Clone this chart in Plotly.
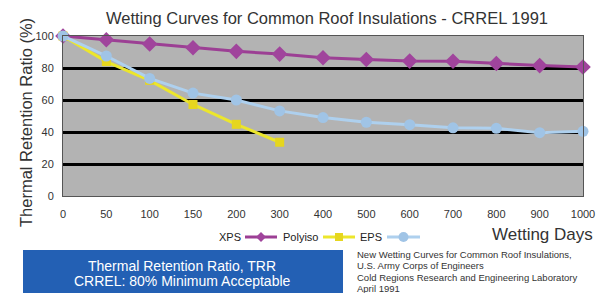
import plotly.graph_objects as go

# ---- data ----
days = ["0", "50", "100", "150", "200", "300", "400", "500", "600", "700", "800", "900", "1000"]
xps = [100, 97.7, 95, 92.7, 90.4, 88.7, 86.4, 85.3, 84.3, 84.2, 82.8, 81.5, 80.6]
polyiso_days = ["0", "50", "100", "150", "200", "300"]
polyiso = [100, 84, 72.3, 57.2, 44.8, 33.6]
eps = [100, 87.5, 73.5, 64.3, 60, 53.2, 49, 46.1, 44.6, 42.6, 42.3, 39.6, 40.4]
y_ticks = [0, 20, 40, 60, 80, 100]
grid_vals = [20, 40, 60, 80]
labels = ["XPS", "Polyiso", "EPS"]
source_lines = ["New Wetting Curves for Common Roof Insulations,",
                "U.S. Army Corps of Engineers",
                "Cold Regions Research and Engineering Laboratory",
                "April 1991"]

# the page places the figure 8px in from the top-left corner
OFF = 8
W, H = 606 - OFF, 293 - OFF
PLOT_L, PLOT_R, PLOT_T, PLOT_B = 63, 583, 36, 196   # in window pixels
L, T = PLOT_L - OFF, PLOT_T - OFF
R = W - (PLOT_R - OFF)
B = H - (PLOT_B - OFF)
PW, PH = PLOT_R - PLOT_L, PLOT_B - PLOT_T

def px(x):
    return (x - PLOT_L) / PW

def py(y):
    return (PLOT_B - y) / PH

c_xps_line, c_xps_m = "#9c3f94", "#a0449c"
c_pi_line, c_pi_m = "#ece62c", "#e6d61e"
c_eps_line, c_eps_m = "#aed0ee", "#a0c4e6"

fig = go.Figure()
fig.add_trace(go.Scatter(x=days, y=xps, mode="lines+markers", name=labels[0],
                         line=dict(color=c_xps_line, width=3),
                         marker=dict(symbol="diamond", size=12, color=c_xps_m),
                         cliponaxis=False))
fig.add_trace(go.Scatter(x=polyiso_days, y=polyiso, mode="lines+markers", name=labels[1],
                         line=dict(color=c_pi_line, width=3),
                         marker=dict(symbol="square", size=9, color=c_pi_m),
                         cliponaxis=False))
fig.add_trace(go.Scatter(x=days, y=eps, mode="lines+markers", name=labels[2],
                         line=dict(color=c_eps_line, width=3),
                         marker=dict(symbol="circle", size=11, color=c_eps_m),
                         cliponaxis=False))

font = "Liberation Sans, Arial, sans-serif"

fig.update_layout(
    width=W, height=H,
    margin=dict(l=L, r=R, t=T, b=B, pad=0),
    paper_bgcolor="white",
    plot_bgcolor="#b3b3b3",
    showlegend=False,
    font=dict(family=font, color="#333333"),
    xaxis=dict(type="category", categoryorder="array", categoryarray=days,
               range=[0, len(days) - 1], showgrid=False, zeroline=False,
               showline=True, mirror=True, linecolor="#555555", linewidth=1,
               ticks="", tickfont=dict(size=11, color="#333333"),
               ticklabelstandoff=8),
    yaxis=dict(range=[0, 100], tickvals=y_ticks, showgrid=False, zeroline=False,
               showline=True, mirror=True, linecolor="#555555", linewidth=1,
               ticks="", tickfont=dict(size=11, color="#333333"),
               ticklabelstandoff=6,
               minor=dict(tickvals=grid_vals, showgrid=True, gridcolor="#000000",
                          gridwidth=3, ticks="")),
)

annotations = [
    dict(text="Wetting Curves for Common Roof Insulations - CRREL 1991",
         x=px(327), y=py(18), font=dict(size=16.5, color="#333333")),
    dict(text="Thermal Retention Ratio (%)", textangle=-90,
         x=px(26), y=py(123), font=dict(size=16.5, color="#333333")),
    dict(text="Wetting Days", x=px(542), y=py(234), font=dict(size=17, color="#333333")),
    dict(text="Thermal Retention Ratio, TRR", x=px(182), y=py(266),
         font=dict(size=14, color="white")),
    dict(text="CRREL: 80% Minimum Acceptable", x=px(182), y=py(281),
         font=dict(size=14, color="white")),
    dict(text=labels[0], x=px(243), y=py(237), xanchor="right", font=dict(size=11, color="#222222")),
    dict(text=labels[1], x=px(320), y=py(237), xanchor="right", font=dict(size=11, color="#222222")),
    dict(text=labels[2], x=px(384), y=py(237), xanchor="right", font=dict(size=11, color="#222222")),
]
for i, line in enumerate(source_lines):
    annotations.append(dict(text=line, x=px(355), y=py(254 + 11.5 * i), xanchor="left",
                            font=dict(size=9.5, color="#333333")))
for a in annotations:
    a.setdefault("xanchor", "center")
    a.setdefault("yanchor", "middle")
    a.update(xref="paper", yref="paper", showarrow=False)
fig.update_layout(annotations=annotations)

shapes = [
    dict(type="rect", x0=px(23), x1=px(343), y0=py(250), y1=py(300),
         fillcolor="#2360b4", line=dict(width=0), layer="below"),
]
# legend keys
keys = [(245, 277, c_xps_line, c_xps_m, "diamond"),
        (323, 355, c_pi_line, c_pi_m, "square"),
        (387, 420, c_eps_line, c_eps_m, "circle")]
ky = 237
for x0, x1, lc, mc, sym in keys:
    shapes.append(dict(type="line", x0=px(x0), x1=px(x1), y0=py(ky), y1=py(ky),
                       line=dict(color=lc, width=3)))
    cx = (x0 + x1) / 2
    if sym == "diamond":
        path = "M {} {} L {} {} L {} {} L {} {} Z".format(
            px(cx - 5), py(ky), px(cx), py(ky - 5), px(cx + 5), py(ky), px(cx), py(ky + 5))
        shapes.append(dict(type="path", path=path, fillcolor=mc, line=dict(width=0)))
    elif sym == "square":
        shapes.append(dict(type="rect", x0=px(cx - 4), x1=px(cx + 4), y0=py(ky - 4), y1=py(ky + 4),
                           fillcolor=mc, line=dict(width=0)))
    else:
        shapes.append(dict(type="circle", x0=px(cx - 5), x1=px(cx + 5), y0=py(ky - 5), y1=py(ky + 5),
                           fillcolor=mc, line=dict(width=0)))
for s in shapes:
    s.update(xref="paper", yref="paper")
fig.update_layout(shapes=shapes)

fig.write_html("out.html")
